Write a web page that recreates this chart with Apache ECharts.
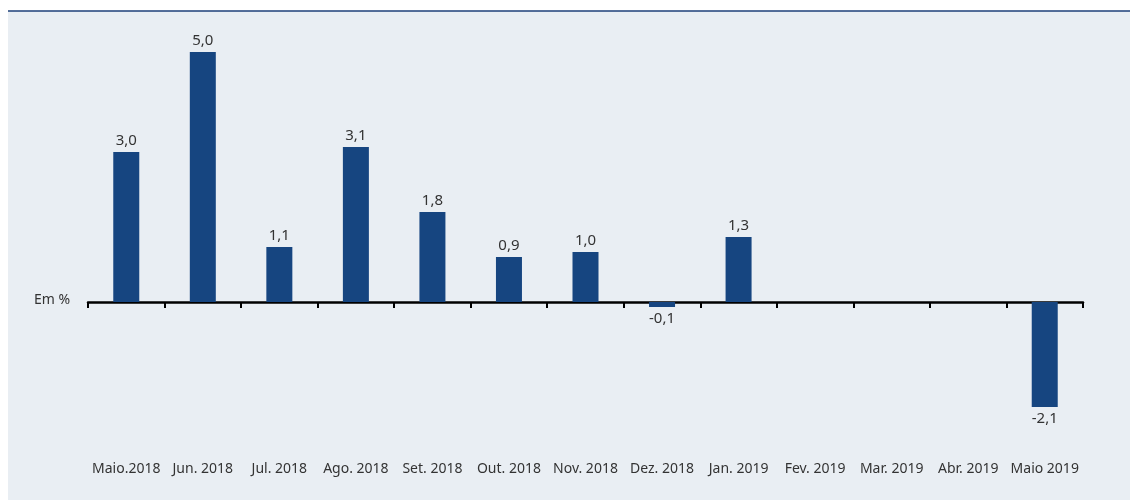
<!DOCTYPE html>
<html>
<head>
<meta charset="utf-8">
<style>
html,body{margin:0;padding:0;background:#ffffff;}
#chart{width:1130px;height:500px;}
</style>
<script src="https://cdn.jsdelivr.net/npm/echarts@6/dist/echarts.min.js"></script>
</head>
<body>
<div id="chart"></div>
<script>
var categories = ['Maio.2018','Jun. 2018','Jul. 2018','Ago. 2018','Set. 2018','Out. 2018','Nov. 2018','Dez. 2018','Jan. 2019','Fev. 2019','Mar. 2019','Abr. 2019','Maio 2019'];
var values = [3.0, 5.0, 1.1, 3.1, 1.8, 0.9, 1.0, -0.1, 1.3, null, null, null, -2.1];
var unitLabel = 'Em %';

var chart = echarts.init(document.getElementById('chart'), null, {renderer:'canvas'});
var fontFam = '"Noto Sans", "Open Sans", sans-serif';
var seriesData = values.map(function(v){
  if (v === null) return null;
  return {value: v, label: {position: v < 0 ? 'bottom' : 'top'}};
});
chart.setOption({
  backgroundColor: '#ffffff',
  animation: false,
  graphic: [
    {type:'rect', shape:{x:8, y:11, width:1122, height:489}, style:{fill:'#e9eef3'}, z:-10, silent:true},
    {type:'line', shape:{x1:8, y1:11, x2:1130, y2:11}, style:{stroke:'#1c3f78', lineWidth:1.5}, z:-9, silent:true},
    {type:'text', left:34, top:293, style:{text:unitLabel, fill:'#333333', font:'14px ' + fontFam}}
  ],
  grid: {left:88, right:47, top:27, bottom:73},
  xAxis: [
    {
      type:'category', data:categories, boundaryGap:true,
      axisLine:{show:true, onZero:true, lineStyle:{color:'#000000', width:2.5}},
      axisTick:{show:true, length:6, lineStyle:{color:'#000000', width:2}},
      axisLabel:{show:false}
    },
    {
      type:'category', data:categories, position:'bottom', boundaryGap:true,
      axisLine:{show:false, onZero:false}, axisTick:{show:false},
      axisLabel:{show:true, margin:35, color:'#333333', fontSize:14, fontFamily:fontFam, interval:0}
    }
  ],
  yAxis: {type:'value', min:-2.5, max:5.5, show:false, splitLine:{show:false}},
  series: [{
    type:'bar', data:seriesData, barWidth:26, xAxisIndex:0,
    itemStyle:{color:'#164580'},
    label:{show:true, color:'#333333', fontSize:15, fontFamily:fontFam, distance:4,
      formatter:function(p){ return p.value.toFixed(1).replace('.', ','); }}
  }]
});
</script>
</body>
</html>
